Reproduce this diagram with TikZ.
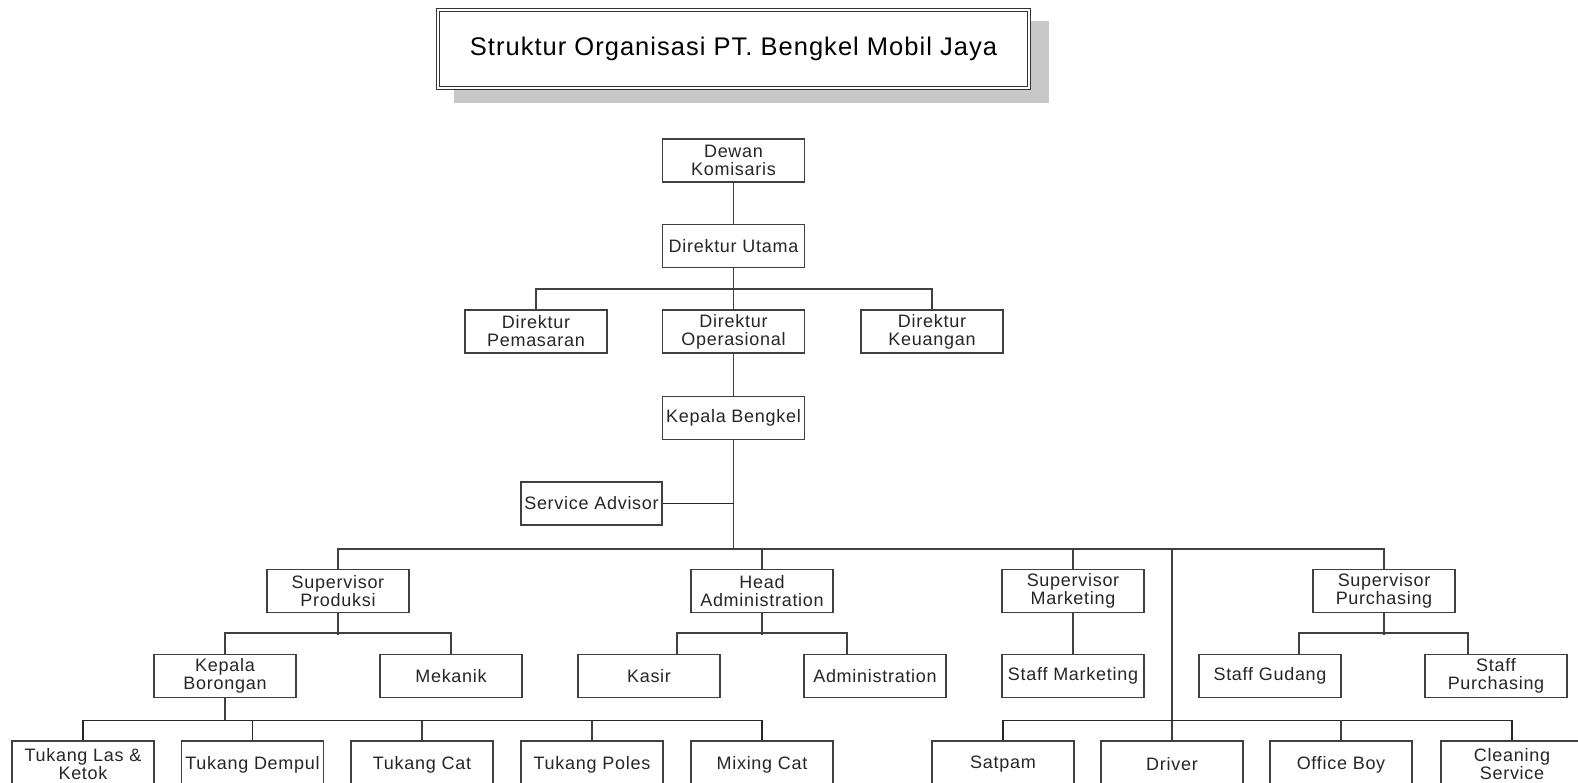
\documentclass[tikz,border=0pt]{standalone}
\usepackage{fontspec}
\setmainfont{Liberation Sans}[LetterSpace=4]
\definecolor{linegray}{HTML}{404040}
\definecolor{shadowgray}{HTML}{C8C8C8}
\tikzset{
    unit/.style={draw=linegray, line width=1.5pt, fill=white, minimum width=142pt,
        minimum height=43pt, inner sep=0pt, align=center, text=black!85,
        font=\fontsize{18}{18}\selectfont},
    lowunit/.style={unit, minimum height=47pt},
    link/.style={draw=linegray, line width=1.8pt},
    thinlink/.style={draw=black!85, line width=1.2pt}
}

\begin{document}
\begin{tikzpicture}[x=1pt, y=-1pt]
        \clip
            (0,0) rectangle (1578,783);
        \fill[shadowgray]
            (454,21) rectangle (1049,103);
        \node[draw=black!80, double, double distance=2pt, line width=1pt, fill=white,
            minimum width=591pt, minimum height=78pt,
            font=\fontsize{25.5}{25.5}\selectfont] (title) at (733.5,49)
            {Struktur Organisasi PT. Bengkel Mobil Jaya};

        \node[unit] (dewan) at (733.5,160.5) {Dewan\\Komisaris};
        \node[unit] (dirut) at (733.5,246) {Direktur Utama};
        \node[unit] (dirpem) at (536,331.5) {Direktur\\Pemasaran};
        \node[unit] (dirops) at (733.5,331.5) {Direktur\\Operasional};
        \node[unit] (dirkeu) at (932,331.5) {Direktur\\Keuangan};
        \node[unit] (kabeng) at (733.5,418) {Kepala Bengkel};
        \node[unit, minimum width=141pt] (advisor) at (591.5,503.5) {Service Advisor};

        \node[unit] (spvprod) at (338,591) {Supervisor\\Produksi};
        \node[unit] (headadm) at (762,591) {Head\\Administration};
        \node[unit] (spvmkt) at (1073,591) {Supervisor\\Marketing};
        \node[unit] (spvpur) at (1384,591) {Supervisor\\Purchasing};

        \node[unit] (kepbor) at (225,676) {Kepala\\Borongan};
        \node[unit] (mekanik) at (451,676) {Mekanik};
        \node[unit] (kasir) at (649,676) {Kasir};
        \node[unit] (admin) at (875,676) {Administration};
        \node[unit] (staffmkt) at (1073,676) {Staff Marketing};
        \node[unit] (gudang) at (1270,676) {Staff Gudang};
        \node[unit] (staffpur) at (1496,676) {Staff\\Purchasing};

        \node[lowunit] (las) at (83,764.5) {Tukang Las \&\\Ketok};
        \node[lowunit] (dempul) at (252.5,764.5) {Tukang Dempul};
        \node[lowunit] (cat) at (422,764.5) {Tukang Cat};
        \node[lowunit] (poles) at (592,764.5) {Tukang Poles};
        \node[lowunit] (mixing) at (762,764.5) {Mixing Cat};
        \node[lowunit] (satpam) at (1003,764.5) {Satpam};
        \node[lowunit] (driver) at (1172,764.5) {Driver};
        \node[lowunit] (officeboy) at (1341,764.5) {Office Boy};
        \node[lowunit] (cleaning) at (1512,764.5) {Cleaning\\Service};

        \draw[link]
            (dewan.south) -- (dirut.north);
        \draw[link]
            (dirut.south) -- (dirops.north);
        \draw[link]
            (dirpem.north) -- ++(0,-20.5) -| (dirkeu.north);
        \draw[link]
            (dirops.south) -- (kabeng.north);
        \draw[link]
            (kabeng.south) -- ++(0,108.5) coordinate (mainbus);
        \draw[thinlink]
            (advisor.east) -- (advisor.east -| kabeng.south);
        \draw[link]
            (spvprod.north) |- (mainbus) -| (spvpur.north);
        \draw[link]
            (headadm.north) -- (headadm.north |- mainbus);
        \draw[link]
            (spvmkt.north) -- (spvmkt.north |- mainbus);
        \draw[link]
            (driver.north) -- (driver.north |- mainbus);

        \draw[link]
            (kepbor.north) -- ++(0,-21) -| (mekanik.north);
        \draw[link]
            (spvprod.south) -- ++(0,21.5);
        \draw[link]
            ([xshift=28pt]kasir.north) -- ++(0,-21) -| ([xshift=-28pt]admin.north);
        \draw[link]
            (headadm.south) -- ++(0,21.5);
        \draw[link]
            (spvmkt.south) -- (staffmkt.north);
        \draw[link]
            ([xshift=29pt]gudang.north) -- ++(0,-21) -| ([xshift=-28pt]staffpur.north);
        \draw[link]
            (spvpur.south) -- ++(0,21.5);

        \draw[link]
            (kepbor.south) -- ++(0,22.5) coordinate (borbus);
        \draw[thinlink]
            (las.north) |- (borbus) -| (mixing.north);
        \draw[thinlink]
            (dempul.north) -- (dempul.north |- borbus);
        \draw[link]
            (cat.north) -- (cat.north |- borbus);
        \draw[link]
            (poles.north) -- (poles.north |- borbus);
        \draw[thinlink]
            (satpam.north) -- ++(0,-20) -| (cleaning.north);
        \draw[link]
            (officeboy.north) -- ++(0,-20);
    \end{tikzpicture}
\end{document}
